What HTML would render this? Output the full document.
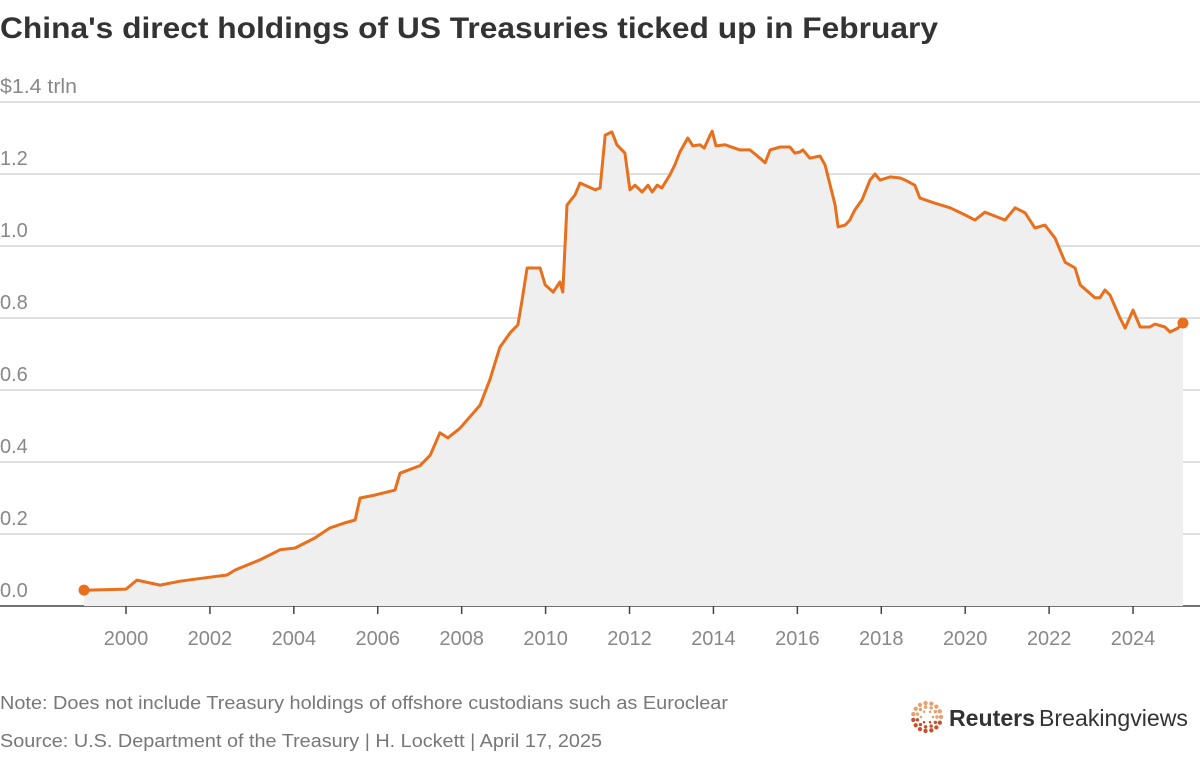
<!DOCTYPE html>
<html><head><meta charset="utf-8"><style>
body{margin:0;background:#fff;width:1200px;height:752px;overflow:hidden;font-family:"Liberation Sans",sans-serif}
</style></head><body>
<svg width="1200" height="752">
<text x="0" y="38" font-size="30" font-weight="bold" fill="#333" textLength="938" lengthAdjust="spacingAndGlyphs">China's direct holdings of US Treasuries ticked up in February</text>
<g id="grid"></g>
<path id="area" fill="#efefef"/>
<path id="line" fill="none" stroke="#e86f1c" stroke-width="3" stroke-linejoin="round"/>
<g id="dots"></g>
<g id="xt"></g>
<text x="0" y="709" font-size="18" fill="#777" textLength="728" lengthAdjust="spacingAndGlyphs">Note: Does not include Treasury holdings of offshore custodians such as Euroclear</text>
<text x="0" y="747" font-size="18" fill="#777" textLength="602" lengthAdjust="spacingAndGlyphs">Source: U.S. Department of the Treasury | H. Lockett | April 17, 2025</text>
<g>
<g id="logo" transform="translate(927,717)"></g>
<text x="949" y="726" font-size="23" font-weight="bold" fill="#333" textLength="86" lengthAdjust="spacingAndGlyphs">Reuters</text>
<text x="1039" y="726" font-size="23" fill="#333" textLength="149" lengthAdjust="spacingAndGlyphs">Breakingviews</text>
</g>
</svg>
<script>
const years=[1999.0,2000.0,2000.26,2000.81,2001.29,2002.0,2002.41,2002.6,2003.19,2003.67,2004.03,2004.5,2004.86,2005.22,2005.46,2005.58,2005.93,2006.41,2006.53,2007.01,2007.25,2007.48,2007.67,2007.96,2008.44,2008.67,2008.91,2009.15,2009.34,2009.44,2009.56,2009.87,2009.99,2010.18,2010.34,2010.41,2010.51,2010.7,2010.82,2011.18,2011.3,2011.42,2011.58,2011.7,2011.89,2012.01,2012.13,2012.3,2012.44,2012.54,2012.66,2012.77,2012.96,2013.08,2013.2,2013.39,2013.51,2013.68,2013.78,2013.92,2013.97,2014.06,2014.28,2014.63,2014.87,2015.11,2015.23,2015.35,2015.59,2015.82,2015.94,2016.06,2016.13,2016.3,2016.54,2016.66,2016.9,2016.97,2017.14,2017.25,2017.37,2017.54,2017.73,2017.85,2017.97,2018.21,2018.45,2018.57,2018.8,2018.92,2019.28,2019.64,2020.0,2020.23,2020.47,2020.71,2020.95,2021.19,2021.43,2021.66,2021.9,2022.14,2022.38,2022.62,2022.74,2023.09,2023.21,2023.33,2023.45,2023.69,2023.81,2024.0,2024.17,2024.4,2024.52,2024.76,2024.88,2025.07,2025.19];
const values=[0.044,0.047,0.072,0.058,0.069,0.080,0.086,0.1,0.128,0.156,0.161,0.189,0.217,0.231,0.239,0.3,0.308,0.322,0.369,0.39,0.419,0.481,0.467,0.494,0.558,0.628,0.719,0.758,0.781,0.85,0.939,0.939,0.892,0.872,0.9,0.872,1.114,1.142,1.175,1.156,1.161,1.308,1.317,1.281,1.258,1.156,1.169,1.15,1.169,1.15,1.169,1.161,1.197,1.225,1.261,1.3,1.278,1.281,1.272,1.308,1.319,1.278,1.281,1.267,1.267,1.244,1.231,1.267,1.275,1.275,1.258,1.261,1.267,1.244,1.25,1.225,1.114,1.053,1.058,1.072,1.1,1.128,1.183,1.2,1.183,1.192,1.189,1.183,1.169,1.133,1.119,1.106,1.086,1.072,1.094,1.083,1.072,1.106,1.092,1.05,1.058,1.022,0.955,0.939,0.892,0.856,0.856,0.878,0.864,0.8,0.772,0.822,0.775,0.775,0.783,0.775,0.761,0.772,0.786];
const yTicks=[0,0.2,0.4,0.6,0.8,1.0,1.2];
const yTickLabels=["0.0","0.2","0.4","0.6","0.8","1.0","1.2"];
const xTicks=[2000,2002,2004,2006,2008,2010,2012,2014,2016,2018,2020,2022,2024];
const NS="http://www.w3.org/2000/svg";
const X=y=>126+(y-2000)*41.96, Y=v=>606-v*360;
function mk(t,a,p){const e=document.createElementNS(NS,t);for(const k in a)e.setAttribute(k,a[k]);p.appendChild(e);return e;}
const grid=document.getElementById('grid');
[...yTicks,1.4].forEach((v,i)=>{
 if(v>0){const l=mk('line',{x1:0,x2:1200,y1:Y(v),y2:Y(v),stroke:'#ccc','stroke-width':1.3},grid);
 
 }
 const t=mk('text',{x:0,y:Y(v)-9,'font-size':20,fill:'#888'},grid);
 t.textContent=i<yTickLabels.length?yTickLabels[i]:'$1.4 trln';
 if(i>=yTickLabels.length){t.setAttribute('textLength',77);t.setAttribute('lengthAdjust','spacingAndGlyphs');}
 
 
});
const base=mk('line',{x1:0,x2:1200,y1:606,y2:606,stroke:'#444','stroke-width':1.5},grid);


const xt=document.getElementById('xt');
xTicks.forEach(y=>{
 const l=mk('line',{x1:X(y),x2:X(y),y1:606,y2:614,stroke:'#444','stroke-width':1.5},xt);
 
 
 const t=mk('text',{x:X(y),y:645,'font-size':20,fill:'#888','text-anchor':'middle'},xt);
 t.textContent=y;
 
 
});
let d=years.map((y,i)=>(i?'L':'M')+X(y).toFixed(1)+','+Y(values[i]).toFixed(1)).join('');
document.getElementById('line').setAttribute('d',d);
document.getElementById('area').setAttribute('d',d+'L'+X(years[years.length-1])+',606L'+X(years[0])+',606Z');
const dots=document.getElementById('dots');
[0,years.length-1].forEach(i=>{
 const c=mk('circle',{cx:X(years[i]),cy:Y(values[i]),r:5.5,fill:'#e86f1c'},dots);
 
 
});
const logo=document.getElementById('logo');
for(let r of [6,10,14]){const n=r*1.1|0;for(let k=0;k<n;k++){const a=k/n*2*Math.PI;
 mk('circle',{cx:r*Math.cos(a),cy:r*Math.sin(a),r:r/9+0.6,fill:(Math.sin(a)>0.2?'#c8502a':'#e8a070')},logo);}}
</script>
</body></html>
